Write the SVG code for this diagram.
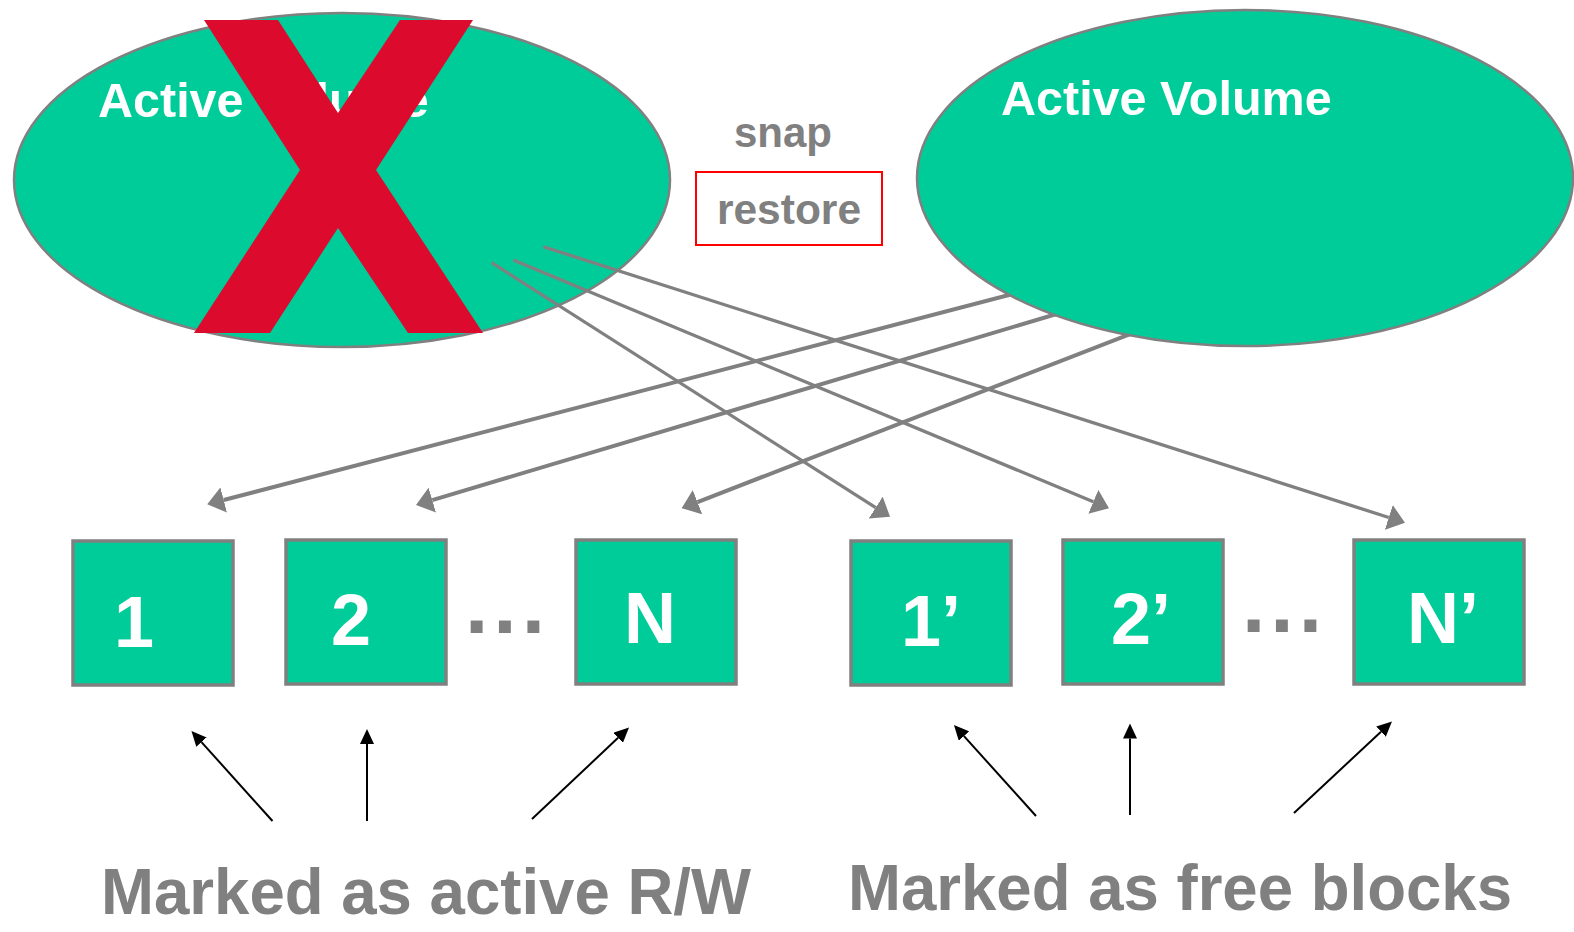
<svg xmlns="http://www.w3.org/2000/svg" width="1574" height="932" viewBox="0 0 1574 932">
  <style>
    .vol { fill: #00CC99; stroke: #808080; stroke-width: 2.5; }
    .blk { fill: #00CC99; stroke: #808080; stroke-width: 3.5; }
    .voltext { font-family: "Liberation Sans", Arial, sans-serif; font-weight: bold; font-size: 48.5px; fill: #FFFFFF; }
    .blktext { font-family: "Liberation Sans", Arial, sans-serif; font-weight: bold; font-size: 72px; fill: #FFFFFF; text-anchor: middle; }
    .gray { font-family: "Liberation Sans", Arial, sans-serif; font-weight: bold; fill: #808080; }
    .conn { stroke: #808080; fill: none; }
    .mark { stroke: #000000; stroke-width: 2; fill: none; }
  </style>
  <defs>
    <marker id="gh" viewBox="0 0 17 26" refX="0" refY="13" markerWidth="17" markerHeight="26" markerUnits="userSpaceOnUse" orient="auto">
      <path d="M0,0 L17,13 L0,26 z" fill="#808080"/>
    </marker>
    <marker id="bh" viewBox="0 0 15 14" refX="0" refY="7" markerWidth="15" markerHeight="14" markerUnits="userSpaceOnUse" orient="auto">
      <path d="M0,0 L15,7 L0,14 z" fill="#000000"/>
    </marker>
  </defs>
  <rect width="1574" height="932" fill="#FFFFFF"/>

  <g id="old-volume">
    <ellipse class="vol" cx="342" cy="180" rx="328" ry="167"/>
    <text class="voltext" x="98" y="117">Active Volume</text>
  </g>
  <g id="cross">
    <polygon points="204,20 278,20 338,113 400,20 473,20 376,170 483,333 408,333 338,228 270,333 194,333 300,170" fill="#DC0A2D"/>
  </g>

  <g id="connectors">
    <line class="conn" stroke-width="4" x1="1040" y1="286.9" x2="223.7" y2="500.0" marker-end="url(#gh)"/>
    <line class="conn" stroke-width="4" x1="1080" y1="307.0" x2="432.3" y2="500.1" marker-end="url(#gh)"/>
    <line class="conn" stroke-width="4" x1="1150" y1="326.3" x2="697.5" y2="502.1" marker-end="url(#gh)"/>
    <line class="conn" stroke-width="3.3" x1="491.7" y1="262.7" x2="875.7" y2="507.6" marker-end="url(#gh)"/>
    <line class="conn" stroke-width="3.3" x1="513.3" y1="260" x2="1093.3" y2="501.8" marker-end="url(#gh)"/>
    <line class="conn" stroke-width="3.3" x1="543.3" y1="246.7" x2="1388.8" y2="517.5" marker-end="url(#gh)"/>
    <line class="mark" x1="272.5" y1="821" x2="201.5" y2="742.1" marker-end="url(#bh)"/>
    <line class="mark" x1="367" y1="821" x2="367" y2="744" marker-end="url(#bh)"/>
    <line class="mark" x1="532" y1="819" x2="618.1" y2="737.8" marker-end="url(#bh)"/>
    <line class="mark" x1="1036" y1="816" x2="964.0" y2="736.1" marker-end="url(#bh)"/>
    <line class="mark" x1="1130" y1="815" x2="1130" y2="738.5" marker-end="url(#bh)"/>
    <line class="mark" x1="1294" y1="813" x2="1381" y2="731.7" marker-end="url(#bh)"/>
  </g>

  <g id="new-volume">
    <ellipse class="vol" cx="1245" cy="178" rx="328" ry="168"/>
    <text class="voltext" x="1001" y="115">Active Volume</text>
  </g>

  <g id="snap-label">
    <text class="gray" x="783" y="147" font-size="42" text-anchor="middle">snap</text>
  </g>
  <g id="restore">
    <rect x="696" y="172" width="186" height="73" fill="none" stroke="#FF0000" stroke-width="2"/>
    <text class="gray" x="789" y="224" font-size="42.5" text-anchor="middle">restore</text>
  </g>

  <g id="block-1"><rect class="blk" x="73" y="541" width="160" height="144"/><text class="blktext" x="134" y="647">1</text></g>
  <g id="block-2"><rect class="blk" x="286" y="540" width="160" height="144"/><text class="blktext" x="351" y="645">2</text></g>
  <g id="dots-left"><text class="gray" x="465" y="633" font-size="84" letter-spacing="5">...</text></g>
  <g id="block-N"><rect class="blk" x="576" y="540" width="160" height="144"/><text class="blktext" x="650" y="643">N</text></g>

  <g id="block-1p"><rect class="blk" x="851" y="541" width="160" height="144"/><text class="blktext" x="931" y="646">1’</text></g>
  <g id="block-2p"><rect class="blk" x="1063" y="540" width="160" height="144"/><text class="blktext" x="1141" y="644">2’</text></g>
  <g id="dots-right"><text class="gray" x="1242" y="632" font-size="84" letter-spacing="5">...</text></g>
  <g id="block-Np"><rect class="blk" x="1354" y="540" width="170" height="144"/><text class="blktext" x="1443" y="643">N’</text></g>

  <g id="label-active"><text class="gray" x="101" y="914" font-size="64" textLength="650" lengthAdjust="spacingAndGlyphs">Marked as active R/W</text></g>
  <g id="label-free"><text class="gray" x="848" y="910" font-size="64" textLength="664" lengthAdjust="spacingAndGlyphs">Marked as free blocks</text></g>
</svg>
